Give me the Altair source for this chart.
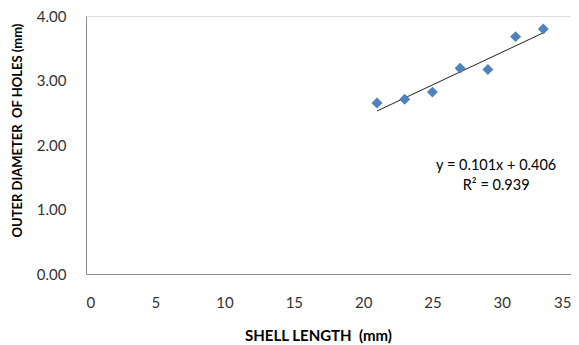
import altair as alt
import pandas as pd

shell_length = [21, 23, 25, 27, 29, 31, 33]
outer_diameter = [2.65, 2.71, 2.82, 3.19, 3.17, 3.68, 3.80]

slope = 0.101
intercept = 0.406
trend_x = [21, 33]
trend_y = [slope * x + intercept for x in trend_x]

eq_lines = ["y = 0.101x + 0.406", "R\u00b2 = 0.939"]
eq_x = [29.6, 29.6]
eq_y = [1.67, 1.36]

pts = pd.DataFrame({"x": shell_length, "y": outer_diameter})
trend = pd.DataFrame({"x": trend_x, "y": trend_y})
eq = pd.DataFrame({"x": eq_x, "y": eq_y, "t": eq_lines})

FONT = "Lato"

xs = alt.Scale(domain=[0, 35], nice=False, zero=True)
ys = alt.Scale(domain=[0, 4], nice=False)

xaxis = alt.Axis(
    title="SHELL LENGTH\u00a0\u00a0(mm)", values=list(range(0, 36, 5)), ticks=False,
    grid=False, domainColor="#8c8c8c", labelPadding=21, labelFontSize=15,
    labelColor="#333333", titleFontSize=15, titleFontWeight="bold", titleColor="#000000",
    titlePadding=18, titleX=232, labelFont=FONT, titleFont=FONT,
)
yaxis = alt.Axis(
    title="OUTER DIAMETER\u00a0\u00a0OF HOLES (mm)", values=[0, 1, 2, 3, 4], format=".2f",
    ticks=False, grid=False, domainColor="#8c8c8c", labelPadding=20, labelFontSize=15,
    labelColor="#333333", titleFontSize=13, titleFontWeight="bold", titleColor="#000000",
    titlePadding=12, titleY=114, labelFont=FONT, titleFont=FONT,
)

points = alt.Chart(pts).mark_point(
    shape="diamond", filled=True, size=120, color="#4F81BD", opacity=1
).encode(
    x=alt.X("x:Q", scale=xs, axis=xaxis),
    y=alt.Y("y:Q", scale=ys, axis=yaxis),
)

line = alt.Chart(trend).mark_line(color="#222222", strokeWidth=1).encode(
    x=alt.X("x:Q", scale=xs), y=alt.Y("y:Q", scale=ys)
)

text = alt.Chart(eq).mark_text(fontSize=14.5, font=FONT, color="#000000").encode(
    x=alt.X("x:Q", scale=xs), y=alt.Y("y:Q", scale=ys), text="t:N"
)

chart = alt.layer(line, points, text).properties(
    width=485, height=258,
    autosize=alt.AutoSizeParams(type="none"),
    padding={"left": 78, "top": 8, "right": 0, "bottom": 71},
).configure_view(stroke=None).configure(background="white")

chart.save("out.html", embed_options={"renderer": "svg", "actions": False})
